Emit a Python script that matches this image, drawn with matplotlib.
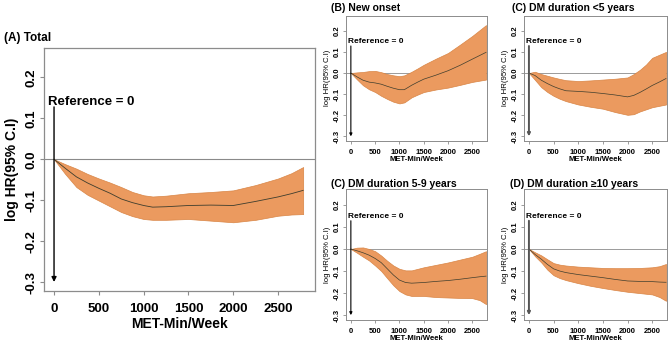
import matplotlib
matplotlib.use("Agg")
import matplotlib.pyplot as plt

plt.rcParams['font.family'] = ['Liberation Sans', 'DejaVu Sans']

# ---- data ----
# (A) Total
a_x  = [0, 125, 250, 375, 500, 625, 750, 875, 1000, 1100, 1250, 1500, 1750, 2000, 2250, 2500, 2650, 2780]
a_c  = [0, -0.022, -0.043, -0.058, -0.071, -0.083, -0.097, -0.106, -0.113, -0.117, -0.116, -0.113, -0.112, -0.113, -0.103, -0.092, -0.084, -0.076]
a_lo = [0, -0.036, -0.068, -0.087, -0.101, -0.115, -0.129, -0.139, -0.146, -0.148, -0.148, -0.146, -0.150, -0.154, -0.148, -0.138, -0.135, -0.134]
a_hi = [0, -0.012, -0.023, -0.036, -0.047, -0.057, -0.068, -0.080, -0.088, -0.091, -0.089, -0.083, -0.080, -0.076, -0.063, -0.047, -0.034, -0.019]

# (B) New onset
b_x  = [0, 125, 250, 375, 500, 625, 750, 875, 1000, 1100, 1250, 1375, 1500, 1750, 2000, 2250, 2500, 2780]
b_c  = [0, -0.018, -0.034, -0.043, -0.047, -0.053, -0.063, -0.072, -0.079, -0.079, -0.058, -0.043, -0.029, -0.010, 0.011, 0.037, 0.066, 0.098]
b_lo = [0, -0.030, -0.058, -0.077, -0.090, -0.108, -0.123, -0.136, -0.144, -0.139, -0.115, -0.102, -0.090, -0.078, -0.069, -0.056, -0.042, -0.031]
b_hi = [0, 0.003, 0.005, 0.009, 0.010, 0.004, -0.005, -0.011, -0.015, -0.011, 0.006, 0.022, 0.039, 0.068, 0.095, 0.135, 0.176, 0.227]

# (C) DM duration <5 years
c_x  = [0, 125, 250, 375, 500, 625, 750, 1000, 1250, 1500, 1750, 2000, 2125, 2250, 2375, 2500, 2650, 2780]
c_c  = [0, -0.012, -0.034, -0.050, -0.064, -0.075, -0.084, -0.087, -0.091, -0.097, -0.104, -0.113, -0.106, -0.092, -0.076, -0.059, -0.042, -0.026]
c_lo = [0, -0.033, -0.067, -0.090, -0.108, -0.122, -0.133, -0.149, -0.160, -0.169, -0.185, -0.198, -0.195, -0.182, -0.172, -0.162, -0.155, -0.149]
c_hi = [0, 0.006, -0.005, -0.013, -0.021, -0.028, -0.034, -0.038, -0.035, -0.031, -0.027, -0.021, -0.005, 0.015, 0.040, 0.072, 0.087, 0.100]

# (C) DM duration 5-9 years
d_x  = [0, 125, 250, 375, 500, 625, 750, 875, 1000, 1125, 1250, 1500, 1750, 2000, 2250, 2500, 2650, 2780]
d_c  = [0, -0.008, -0.017, -0.028, -0.043, -0.062, -0.090, -0.118, -0.141, -0.152, -0.155, -0.152, -0.147, -0.143, -0.137, -0.130, -0.126, -0.123]
d_lo = [0, -0.017, -0.035, -0.052, -0.075, -0.100, -0.133, -0.165, -0.191, -0.206, -0.213, -0.213, -0.218, -0.220, -0.222, -0.223, -0.232, -0.250]
d_hi = [0, 0.006, 0.007, 0.000, -0.010, -0.030, -0.054, -0.075, -0.090, -0.097, -0.097, -0.083, -0.072, -0.061, -0.048, -0.035, -0.022, -0.010]

# (D) DM duration >=10 years
e_x  = [0, 125, 250, 375, 500, 625, 750, 1000, 1250, 1500, 1750, 2000, 2250, 2500, 2650, 2780]
e_c  = [0, -0.025, -0.046, -0.070, -0.090, -0.100, -0.107, -0.116, -0.123, -0.130, -0.138, -0.145, -0.147, -0.148, -0.150, -0.151]
e_lo = [0, -0.033, -0.061, -0.094, -0.119, -0.132, -0.141, -0.155, -0.167, -0.177, -0.186, -0.194, -0.200, -0.206, -0.218, -0.235]
e_hi = [0, -0.015, -0.029, -0.047, -0.064, -0.071, -0.075, -0.080, -0.083, -0.086, -0.087, -0.087, -0.086, -0.083, -0.078, -0.068]

titles = ["(A) Total", "(B) New onset", "(C) DM duration <5 years",
          "(C) DM duration 5-9 years", "(D) DM duration \u226510 years"]
yticks = [-0.3, -0.2, -0.1, 0.0, 0.1, 0.2]
xticks = [0, 500, 1000, 1500, 2000, 2500]
ylabel = "log HR(95% C.I)"
xlabel = "MET-Min/Week"
ref_text = "Reference = 0"

W, H = 669, 349
fig = plt.figure(figsize=(W / 100, H / 100), dpi=100)

FILL = '#EB9A5F'
EDGE = '#D98545'
LINE = '#3d3d2d'
SPINE = '#8c8c8c'


def box(l, r, t, b):
    return [l / W, 1 - b / H, (r - l) / W, (b - t) / H]


def panel(rect, x, c, lo, hi, big, xlim, arrow_col):
    ax = fig.add_axes(rect)
    ax.fill_between(x, lo, hi, facecolor=FILL, edgecolor=EDGE, lw=0.5, zorder=2)
    ax.plot(x, c, color=LINE, lw=0.6 if big else 0.5, zorder=3)
    ax.axhline(0, color='#8a8a8a', lw=0.8 if big else 0.6, zorder=1)
    ax.set_xlim(*xlim)
    ax.set_ylim(-0.322, 0.272)
    ax.set_xticks(xticks)
    ax.set_yticks(yticks)
    ax.set_yticklabels([f"{v:.1f}" for v in yticks])
    for s in ax.spines.values():
        s.set_color(SPINE)
        s.set_linewidth(0.9 if big else 0.7)
    if big:
        fs_t, fs_l, fs_r = 9.5, 10, 9.5
        ax.tick_params(axis='both', colors=SPINE, labelcolor='black',
                       length=3, width=0.8, labelsize=fs_t)
        ax.tick_params(axis='x', pad=6)
        ax.tick_params(axis='y', pad=2, labelrotation=90)
        ax.set_xlabel(xlabel, fontsize=fs_l, fontweight='bold', labelpad=1)
        ax.set_ylabel(ylabel, fontsize=fs_l, fontweight='bold', labelpad=4)
        ref_xy = (-70, 0.14)
        lw_arrow, ms = 1.0, 7
    else:
        fs_t, fs_l, fs_r = 5.5, 5.6, 6
        ax.tick_params(axis='both', colors=SPINE, labelcolor='black',
                       length=2, width=0.6, labelsize=fs_t)
        ax.tick_params(axis='x', pad=3.5)
        ax.tick_params(axis='y', pad=1.5, labelrotation=90)
        ax.set_xlabel(xlabel, fontsize=fs_l, fontweight='bold', labelpad=0.5)
        ax.set_ylabel(ylabel, fontsize=fs_l, labelpad=2)
        ref_xy = (-50, 0.148)
        lw_arrow = 1.4 if arrow_col != 'black' else 0.8
        ms = 4
    for lab in ax.get_xticklabels() + ax.get_yticklabels():
        lab.set_fontweight('bold')
    for lab in ax.get_yticklabels():
        lab.set_va('center')
    ax.text(ref_xy[0], ref_xy[1], ref_text, fontsize=fs_r, fontweight='bold',
            ha='left', va='center', zorder=5)
    ax.annotate('', xy=(0, -0.3), xytext=(0, 0.128),
                arrowprops=dict(arrowstyle='-|>', color=arrow_col, lw=lw_arrow,
                                mutation_scale=ms, shrinkA=0, shrinkB=0),
                zorder=5)
    return ax


panel(box(44, 315, 48, 291), a_x, a_c, a_lo, a_hi, True, (-112, 2912), 'black')
panel(box(346, 487, 15.6, 141), b_x, b_c, b_lo, b_hi, False, (-100, 2800), 'black')
panel(box(524, 667, 15.6, 141), c_x, c_c, c_lo, c_hi, False, (-100, 2800), '#555555')
panel(box(346, 487, 189, 320), d_x, d_c, d_lo, d_hi, False, (-100, 2800), 'black')
panel(box(524, 667, 189, 320), e_x, e_c, e_lo, e_hi, False, (-100, 2800), '#555555')

fig.text(4 / W, 1 - 38 / H, titles[0], fontsize=8.5, fontweight='bold', ha='left', va='center')
fig.text(331 / W, 1 - 8 / H, titles[1], fontsize=7.5, fontweight='bold', ha='left', va='center')
fig.text(512 / W, 1 - 8 / H, titles[2], fontsize=7.5, fontweight='bold', ha='left', va='center')
fig.text(331 / W, 1 - 184 / H, titles[3], fontsize=7.5, fontweight='bold', ha='left', va='center')
fig.text(510 / W, 1 - 184 / H, titles[4], fontsize=7.5, fontweight='bold', ha='left', va='center')

fig.savefig('out.png', dpi=100)
